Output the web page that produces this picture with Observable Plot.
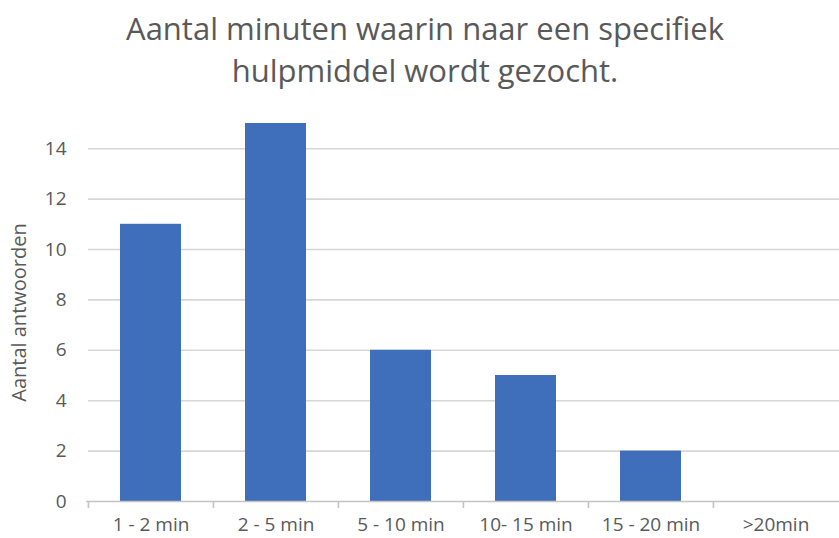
<!DOCTYPE html>
<html>
<head>
<meta charset="utf-8">
<script src="https://cdn.jsdelivr.net/npm/d3@7"></script>
<script src="https://cdn.jsdelivr.net/npm/@observablehq/plot@0.6"></script>
<style>
  html, body { margin: 0; padding: 0; background: #ffffff; }
  #wrap { position: relative; width: 839px; height: 538px; overflow: hidden; }
  #title {
    position: absolute; left: 0; top: 7px; width: 839px;
    padding-left: 11px; box-sizing: border-box;
    text-align: center; font-family: "Open Sans", sans-serif;
    font-size: 31px; line-height: 42px; color: #595959;
  }
  #chart { position: absolute; left: 0; top: 0; }
</style>
</head>
<body>
<div id="wrap">
  <div id="chart"></div>
  <div id="title">Aantal minuten waarin naar een specifiek<br>hulpmiddel wordt gezocht.</div>
</div>
<script>
const categories = ["1 - 2 min", "2 - 5 min", "5 - 10 min", "10- 15 min", "15 - 20 min", ">20min"];
const values = [11, 15, 6, 5, 2, 0];
const yTicks = [0, 2, 4, 6, 8, 10, 12, 14];
const yLabel = "Aantal antwoorden";

const data = categories.map((c, i) => ({category: c, value: values[i]}));

const W = 839, H = 538, mL = 88, mR = 0, mT = 123, mB = 37;
const step = (W - mL - mR) / categories.length;

const chart = Plot.plot({
  width: W,
  height: H,
  marginLeft: mL,
  marginRight: mR,
  marginTop: mT,
  marginBottom: mB,
  style: {fontFamily: "'Open Sans', sans-serif", color: "#595959", background: "#ffffff"},
  x: {domain: categories, paddingInner: 0.51, paddingOuter: 0.255},
  y: {domain: [0, 15]},
  marks: [
    Plot.ruleY(yTicks.filter(d => d > 0), {stroke: "#d6d6d6", strokeWidth: 1.6, strokeOpacity: 1}),
    Plot.barY(data, {x: "category", y: "value", fill: "#3f6fba"}),
    Plot.ruleY([0], {stroke: "#c4c4c4", strokeWidth: 1.6, strokeOpacity: 1, insetLeft: -2}),
    Plot.ruleX(categories, {x: d => d, y1: 0, y2: 0, insetBottom: -7, dx: -step / 2, stroke: "#c4c4c4", strokeWidth: 1.6, strokeOpacity: 1}),
    Plot.axisY({ticks: yTicks, tickSize: 0, tickPadding: 22, fontSize: 19, label: yLabel, labelAnchor: "center", labelArrow: "none", labelOffset: 77}),
    Plot.axisX({tickSize: 0, tickPadding: 16, fontSize: 19, label: null})
  ]
});
chart.querySelectorAll("g[aria-label='y-axis label'] text, g[aria-label='y-axis label']").forEach(el => el.setAttribute("font-size", 20));
document.getElementById("chart").appendChild(chart);
</script>
</body>
</html>
